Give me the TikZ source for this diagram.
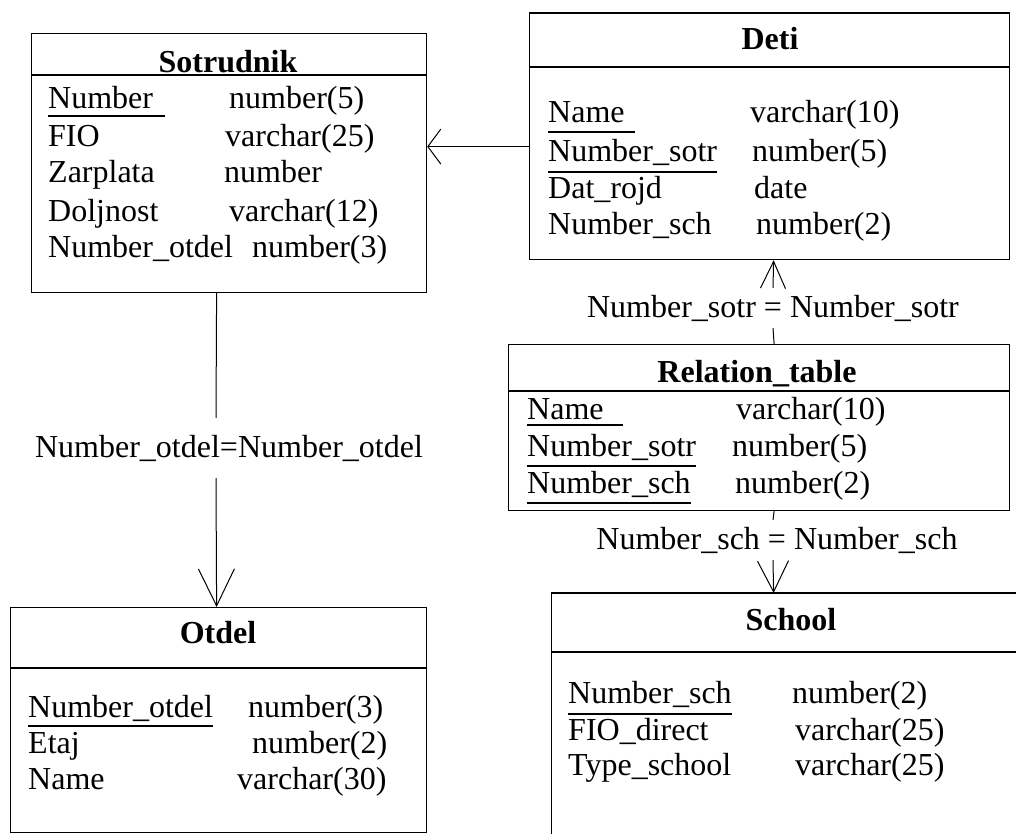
\documentclass[tikz,border=0pt]{standalone}
\usepackage{fontspec}
\setmainfont{Liberation Serif}
\usetikzlibrary{arrows.meta}

\begin{document}
\begin{tikzpicture}[x=1pt, y=-1pt, font=\fontsize{32}{38}\selectfont, inner sep=0pt,
    tbl/.style={draw, line width=1.2pt, anchor=north west},
    title/.style={font=\fontsize{32}{38}\selectfont\bfseries, anchor=base},
    fld/.style={anchor=base west},
    key/.style={line width=2pt},
    rel/.style={line width=1pt},
    lab/.style={minimum height=40pt}]
    \useasboundingbox (0,0) rectangle (1016,834);

    % Sotrudnik
    \node [tbl, minimum width=395pt, minimum height=259pt] (sotr) at (31,33) {};
    \draw [line width=1.2pt] ([yshift=-42pt]sotr.north west) -- ([yshift=-42pt]sotr.north east);
    \node [title] (sotrT) at (228,73) {Sotrudnik};
    \foreach \f/\t/\tx/\ty [count=\i] in {Number/number(5)/229/109, FIO/varchar(25)/225/147,
        Zarplata/number/224/183, Doljnost/varchar(12)/229/222, Number\_otdel/number(3)/252/258} {
        \node [fld] (sotr\i) at (48,\ty) {\f};
        \node [fld] (sotrt\i) at (\tx,\ty) {\t};
    }
    \draw [key] ([yshift=-7pt]sotr1.base west) -- ([yshift=-7pt, xshift=12pt]sotr1.base east);

    % Deti
    \node [tbl, minimum width=480pt, minimum height=246pt] (deti) at (529,13) {};
    \draw [line width=1.2pt] ([yshift=-54pt]deti.north west) -- ([yshift=-54pt]deti.north east);
    \draw [line width=2.4pt] (deti.north west) -- (deti.north east);
    \node [title] (detiT) at (770,50) {Deti};
    \foreach \f/\t/\tx/\ty [count=\i] in {Name/varchar(10)/750/123, Number\_sotr/number(5)/752/162,
        Dat\_rojd/date/754/199, Number\_sch/number(2)/756/235} {
        \node [fld] (deti\i) at (548,\ty) {\f};
        \node [fld] (detit\i) at (\tx,\ty) {\t};
    }
    \draw [key] ([yshift=-9pt]deti1.base west) -- ([yshift=-9pt, xshift=10pt]deti1.base east);
    \draw [key] ([yshift=-10pt]deti2.base west) -- ([yshift=-10pt]deti2.base east);

    % Relation_table
    \node [tbl, minimum width=501pt, minimum height=166pt] (reltab) at (508,344) {};
    \draw [line width=1.2pt] ([yshift=-47pt]reltab.north west) -- ([yshift=-47pt]reltab.north east);
    \node [title] (reltabT) at (757,382) {Relation\_table};
    \foreach \f/\t/\tx/\ty [count=\i] in {Name/varchar(10)/736/419, Number\_sotr/number(5)/732/456,
        Number\_sch/number(2)/735/493} {
        \node [fld] (reltab\i) at (527,\ty) {\f};
        \node [fld] (reltabt\i) at (\tx,\ty) {\t};
    }
    \draw [key] ([yshift=-6pt]reltab1.base west) -- ([yshift=-6pt, xshift=19pt]reltab1.base east);
    \draw [key] ([yshift=-10pt]reltab2.base west) -- ([yshift=-10pt]reltab2.base east);
    \draw [key] ([yshift=-10pt]reltab3.base west) -- ([yshift=-10pt]reltab3.base east);

    % School
    \node [tbl, minimum width=500pt, minimum height=280pt] (school) at (551,593) {};
    \draw [line width=1.2pt] ([yshift=-59pt]school.north west) -- ([yshift=-59pt]school.north east);
    \draw [line width=2.4pt] (school.north west) -- (school.north east);
    \node [title] (schoolT) at (791,630) {School};
    \foreach \f/\t/\tx/\ty [count=\i] in {Number\_sch/number(2)/792/703, FIO\_direct/varchar(25)/795/740,
        Type\_school/varchar(25)/795/775} {
        \node [fld] (school\i) at (568,\ty) {\f};
        \node [fld] (schoolt\i) at (\tx,\ty) {\t};
    }
    \draw [key] ([yshift=-11pt]school1.base west) -- ([yshift=-11pt]school1.base east);

    % Otdel
    \node [tbl, minimum width=416pt, minimum height=225pt] (otdel) at (10,607) {};
    \draw [line width=1.2pt] ([yshift=-61pt]otdel.north west) -- ([yshift=-61pt]otdel.north east);
    \node [title] (otdelT) at (218,643) {Otdel};
    \foreach \f/\t/\tx/\ty [count=\i] in {Number\_otdel/number(3)/248/717, Etaj/number(2)/252/753,
        Name/varchar(30)/237/789} {
        \node [fld] (otdel\i) at (28,\ty) {\f};
        \node [fld] (otdelt\i) at (\tx,\ty) {\t};
    }
    \draw [key] ([yshift=-9pt]otdel1.base west) -- ([yshift=-9pt]otdel1.base east);

    % links
    \draw [rel, -{Straight Barb[length=13pt, width=35pt]}] ([yshift=-10pt]deti.west) -- ([yshift=16.5pt]sotr.east);

    \node [lab, minimum height=60pt] (l1) at (229,448) {Number\_otdel=Number\_otdel};
    \draw [rel] ([xshift=-12.5pt]sotr.south) -- ([xshift=-13pt]l1.north);
    \draw [rel, -{Straight Barb[length=37pt, width=36pt]}] ([xshift=-13pt]l1.south) -- ([xshift=-2pt]otdel.north);

    \node [lab] (l2) at (773,308) {Number\_sotr = Number\_sotr};
    \draw [rel] ([xshift=15pt]reltab.north) -- (l2.south);
    \draw [rel, -{Straight Barb[length=27pt, width=25pt]}] (l2.north) -- ([xshift=4pt]deti.south);

    \node [lab] (l3) at (777,540) {Number\_sch = Number\_sch};
    \draw [rel] ([xshift=15pt]reltab.south) -- ([xshift=-4pt]l3.north);
    \draw [rel, -{Straight Barb[length=31pt, width=31pt]}] ([xshift=-4pt]l3.south) -- ([xshift=-28pt]school.north);
\end{tikzpicture}
\end{document}
